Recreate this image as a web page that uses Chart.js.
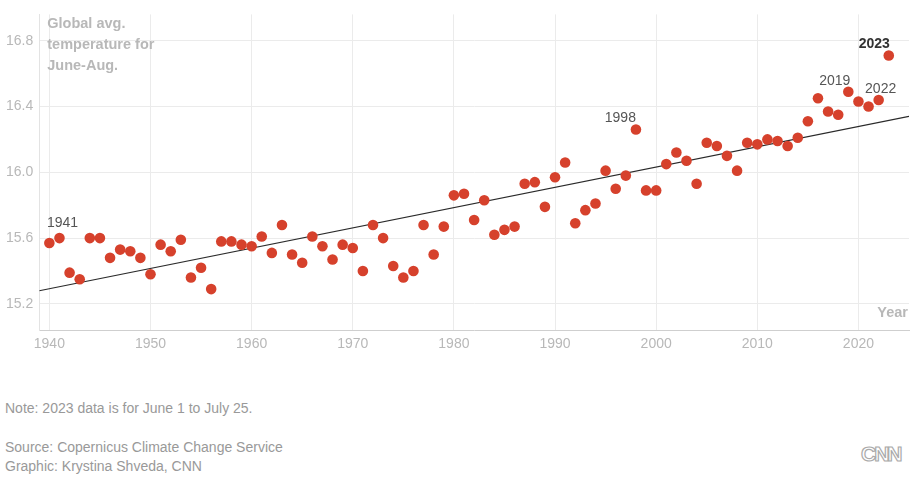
<!DOCTYPE html>
<html>
<head>
<meta charset="utf-8">
<script src="https://cdn.jsdelivr.net/npm/chart.js@4"></script>
<style>
  body { margin: 0; background: #fff; font-family: "Liberation Sans", Arial, sans-serif; }
  #wrap { position: relative; width: 924px; height: 486px; }
  #chartBox { position: absolute; left: 0; top: 0; width: 924px; height: 359px; }
  .foot { position: absolute; left: 5px; color: #999; font-size: 14px; white-space: nowrap; }
  #logo { position: absolute; left: 861px; top: 442px; font-size: 21px; font-weight: bold;
          color: #fff; -webkit-text-stroke: 1.2px #aaa; letter-spacing: -2px; }
</style>
</head>
<body>
<div id="wrap">
  <div id="chartBox"><canvas id="chart"></canvas></div>
  <div class="foot" style="top:400px">Note: 2023 data is for June 1 to July 25.</div>
  <div class="foot" style="top:439px">Source: Copernicus Climate Change Service</div>
  <div class="foot" style="top:458px">Graphic: Krystina Shveda, CNN</div>
  <div id="logo">CNN</div>
</div>
<script>
const years = [
  1940, 1941, 1942, 1943, 1944, 1945, 1946, 1947, 1948, 1949,
  1950, 1951, 1952, 1953, 1954, 1955, 1956, 1957, 1958, 1959,
  1960, 1961, 1962, 1963, 1964, 1965, 1966, 1967, 1968, 1969,
  1970, 1971, 1972, 1973, 1974, 1975, 1976, 1977, 1978, 1979,
  1980, 1981, 1982, 1983, 1984, 1985, 1986, 1987, 1988, 1989,
  1990, 1991, 1992, 1993, 1994, 1995, 1996, 1997, 1998, 1999,
  2000, 2001, 2002, 2003, 2004, 2005, 2006, 2007, 2008, 2009,
  2010, 2011, 2012, 2013, 2014, 2015, 2016, 2017, 2018, 2019,
  2020, 2021, 2022, 2023
];
const temps = [
  15.57, 15.60, 15.39, 15.35, 15.60, 15.60, 15.48, 15.53, 15.52, 15.48,
  15.38, 15.56, 15.52, 15.59, 15.36, 15.42, 15.29, 15.58, 15.58, 15.56,
  15.55, 15.61, 15.51, 15.68, 15.50, 15.45, 15.61, 15.55, 15.47, 15.56,
  15.54, 15.40, 15.68, 15.60, 15.43, 15.36, 15.40, 15.68, 15.50, 15.67,
  15.86, 15.87, 15.71, 15.83, 15.62, 15.65, 15.67, 15.93, 15.94, 15.79,
  15.97, 16.06, 15.69, 15.77, 15.81, 16.01, 15.90, 15.98, 16.26, 15.89,
  15.89, 16.05, 16.12, 16.07, 15.93, 16.18, 16.16, 16.10, 16.01, 16.18,
  16.17, 16.20, 16.19, 16.16, 16.21, 16.31, 16.45, 16.37, 16.35, 16.49,
  16.43, 16.40, 16.44, 16.71
];
const trendYears = [1939, 2025];
const trendTemps = [15.28, 16.34];
const yTicks = [15.2, 15.6, 16.0, 16.4, 16.8];
const xTicks = [1940, 1950, 1960, 1970, 1980, 1990, 2000, 2010, 2020];
const titleLines = ["Global avg.", "temperature for", "June-Aug."];
const callouts = [
  { year: 1941, text: "1941", align: "center", dx: 3, bold: false },
  { year: 1998, text: "1998", align: "right", dx: 0, bold: false },
  { year: 2019, text: "2019", align: "right", dx: 2, bold: false },
  { year: 2022, text: "2022", align: "center", dx: 2, bold: false },
  { year: 2023, text: "2023", align: "right", dx: 1, bold: true }
];

const FONT = '"Liberation Sans", Arial, sans-serif';

const textPlugin = {
  id: "textPlugin",
  afterDatasetsDraw(chart) {
    const { ctx, chartArea, scales } = chart;
    ctx.save();
    ctx.textBaseline = "middle";
    ctx.fillStyle = "#b8b8b8";
    ctx.font = "bold 14.5px " + FONT;
    ctx.textAlign = "left";
    titleLines.forEach((t, i) => ctx.fillText(t, chartArea.left + 8, chartArea.top + 10 + i * 21));
    ctx.textAlign = "right";
    ctx.fillText("Year", chartArea.right - 1, chartArea.bottom - 17);

    callouts.forEach(c => {
      const idx = years.indexOf(c.year);
      const px = scales.x.getPixelForValue(c.year);
      const py = scales.y.getPixelForValue(temps[idx]);
      ctx.font = (c.bold ? "bold " : "") + "14px " + FONT;
      ctx.fillStyle = c.bold ? "#333" : "#555";
      ctx.textAlign = c.align;
      ctx.fillText(c.text, px + c.dx, py - (c.year === 1941 ? 15 : 11));
    });
    ctx.restore();
  }
};

new Chart(document.getElementById("chart"), {
  type: "scatter",
  data: {
    datasets: [
      {
        label: "Temperature",
        data: years.map((y, i) => ({ x: y, y: temps[i] })),
        backgroundColor: "#d6412c",
        borderWidth: 0,
        pointRadius: 5.3,
        order: 1
      },
      {
        type: "line",
        label: "Trend",
        data: trendYears.map((y, i) => ({ x: y, y: trendTemps[i] })),
        borderColor: "#2a2a2a",
        borderWidth: 1.2,
        pointRadius: 0,
        fill: false,
        order: 2
      }
    ]
  },
  options: {
    responsive: true,
    maintainAspectRatio: false,
    animation: false,
    layout: { padding: { left: 0, right: 15, top: 13, bottom: 0 } },
    plugins: {
      legend: { display: false },
      tooltip: { enabled: false }
    },
    scales: {
      x: {
        type: "linear",
        min: 1939,
        max: 2025,
        afterBuildTicks: axis => { axis.ticks = xTicks.map(v => ({ value: v })); },
        ticks: {
          color: "#b8b8b8",
          font: { size: 14, family: FONT },
          padding: 6,
          callback: v => String(v)
        },
        grid: { color: "#ebebeb", drawTicks: false },
        border: { color: "#cfcfcf", width: 1 }
      },
      y: {
        min: 15.04,
        max: 16.96,
        afterBuildTicks: axis => { axis.ticks = yTicks.map(v => ({ value: v })); },
        ticks: {
          color: "#b8b8b8",
          font: { size: 14, family: FONT },
          padding: 6,
          callback: v => v.toFixed(1)
        },
        grid: { color: "#ebebeb", drawTicks: false },
        border: { color: "#e3e3e3", width: 1 }
      }
    }
  },
  plugins: [textPlugin]
});
</script>
</body>
</html>
